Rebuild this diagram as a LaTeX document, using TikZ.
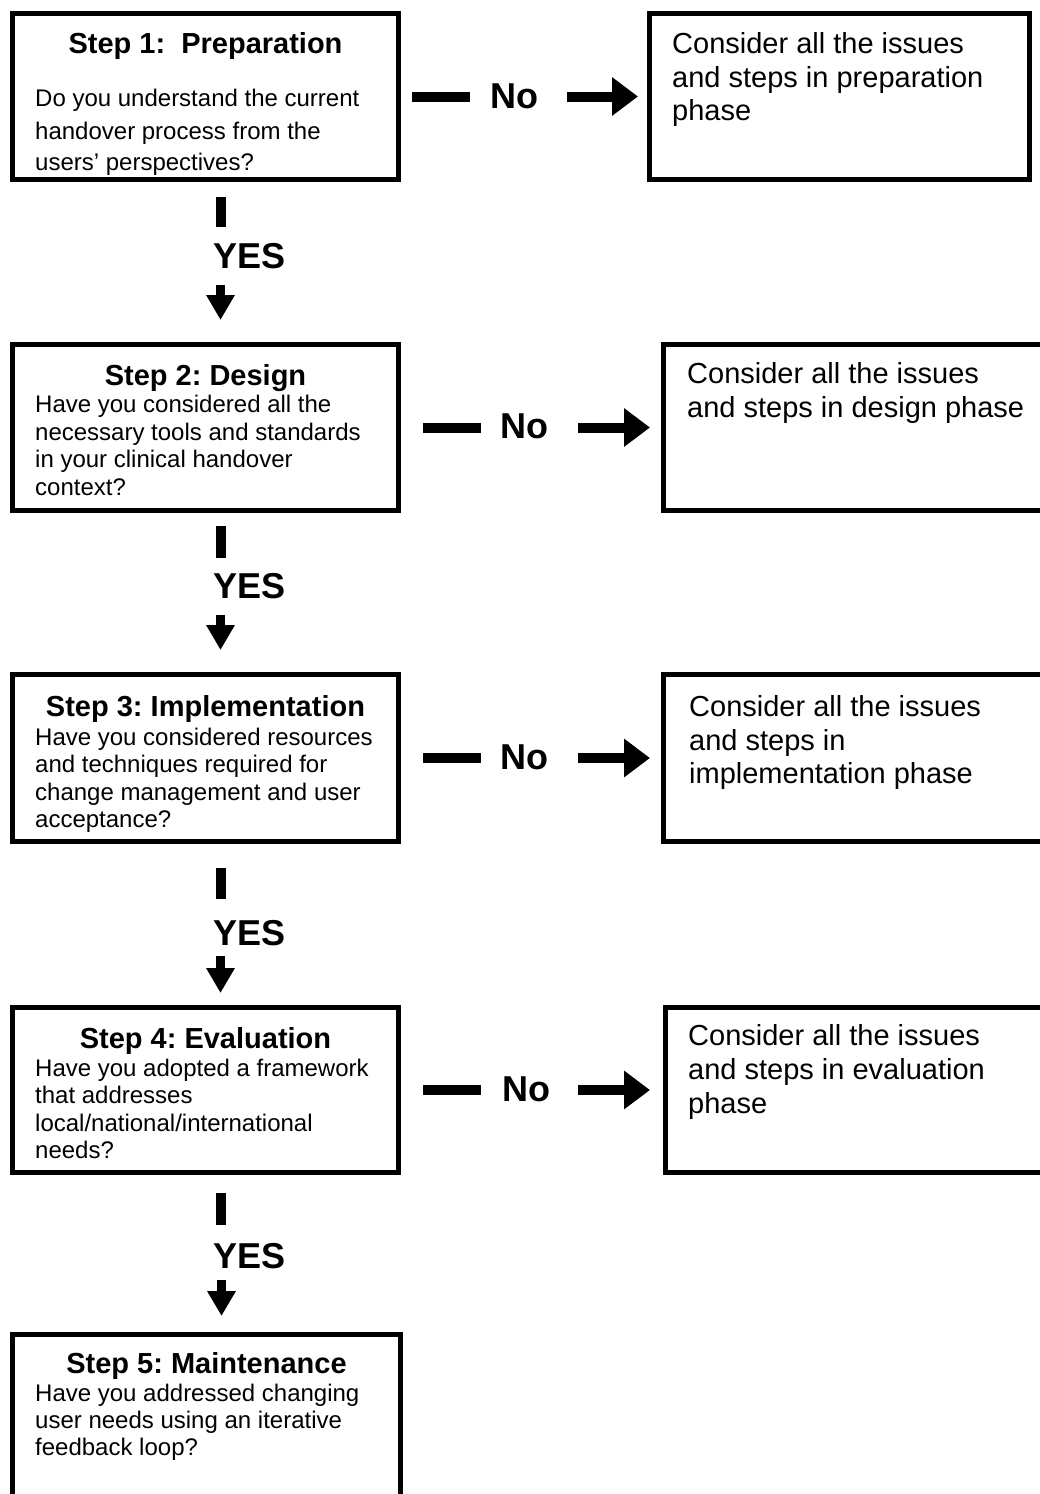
\documentclass[tikz,border=0pt]{standalone}
\usepackage{fontspec}
\setmainfont{Liberation Sans}
\usetikzlibrary{arrows.meta,calc}
\frenchspacing
\begin{document}
\begin{tikzpicture}[x=1pt,y=-1pt,
  box/.style={draw=black, line width=5pt, rectangle, inner sep=0pt, outer sep=0pt},
  ttl/.style={font=\fontsize{29}{33}\selectfont\bfseries, inner sep=0pt, anchor=base},
  txt/.style={font=\fontsize{24}{27.6}\selectfont, inner sep=0pt, anchor=base west},
  rtxt/.style={font=\fontsize{29}{33}\selectfont, inner sep=0pt, anchor=base west},
  lbl/.style={font=\fontsize{36}{40}\selectfont\bfseries, inner sep=0pt, anchor=base west},
  hbar/.style={line width=10pt},
  harrow/.style={line width=10pt, -{Triangle[length=26pt,width=37pt]}},
  vbar/.style={line width=10pt},
  varrow/.style={line width=9pt, -{Triangle[length=25pt,width=27pt]}}]
\useasboundingbox (0,0) rectangle (1040,1494);
\fill[white] (0,0) rectangle (1040,1494);
\begin{scope}
\clip (0,0) rectangle (1040,1494);
% left boxes
\node[box, minimum width=386pt, minimum height=166pt] (b1) at (205.5,96.5) {};
\node[box, minimum width=386pt, minimum height=166pt] (b2) at (205.5,427.5) {};
\node[box, minimum width=386pt, minimum height=167pt] (b3) at (205.5,758) {};
\node[box, minimum width=386pt, minimum height=165pt] (b4) at (205.5,1090) {};
\node[box, minimum width=388pt, minimum height=185.5pt] (b5) at (206.5,1427.25) {};
% right boxes
\node[box, minimum width=380pt, minimum height=166pt] (r1) at (839.5,96.5) {};
\node[box, minimum width=396.5pt, minimum height=166pt] (r2) at (861.75,427.5) {};
\node[box, minimum width=396.5pt, minimum height=167pt] (r3) at (861.75,758) {};
\node[box, minimum width=394.5pt, minimum height=165pt] (r4) at (862.75,1090) {};
\end{scope}
% texts box 1
\node[ttl] (t1) at (205.5,53) {Step 1:\ \ Preparation};
\node[txt] (t1a) at (35,106) {Do you understand the current};
\node[txt] (t1b) at (35,139) {handover process from the};
\node[txt] (t1c) at (35,170) {users’ perspectives?};
% box 2
\node[ttl] (t2) at (205.5,385) {Step 2: Design};
\node[txt] (t2a) at (35,412.7) {Have you considered all the};
\node[txt] (t2b) at (35,440) {necessary tools and standards};
\node[txt] (t2c) at (35,467.7) {in your clinical handover};
\node[txt] (t2d) at (35,495) {context?};
% box 3
\node[ttl] (t3) at (205.5,716) {Step 3: Implementation};
\node[txt] (t3a) at (35,745) {Have you considered resources};
\node[txt] (t3b) at (35,772.5) {and techniques required for};
\node[txt] (t3c) at (35,800) {change management and user};
\node[txt] (t3d) at (35,827.5) {acceptance?};
% box 4
\node[ttl] (t4) at (205.5,1048) {Step 4: Evaluation};
\node[txt] (t4a) at (35,1076) {Have you adopted a framework};
\node[txt] (t4b) at (35,1103.5) {that addresses};
\node[txt] (t4c) at (35,1131) {local/national/international};
\node[txt] (t4d) at (35,1158.5) {needs?};
% box 5
\node[ttl] (t5) at (206.5,1373) {Step 5: Maintenance};
\node[txt] (t5a) at (35,1401.5) {Have you addressed changing};
\node[txt] (t5b) at (35,1428.5) {user needs using an iterative};
\node[txt] (t5c) at (35,1455.5) {feedback loop?};
% right texts
\node[rtxt] (s1a) at (672,53) {Consider all the issues};
\node[rtxt] (s1b) at (672,87) {and steps in preparation};
\node[rtxt] (s1c) at (672,120) {phase};
\node[rtxt] (s2a) at (687,383) {Consider all the issues};
\node[rtxt] (s2b) at (687,417) {and steps in design phase};
\node[rtxt] (s3a) at (689,716) {Consider all the issues};
\node[rtxt] (s3b) at (689,750) {and steps in};
\node[rtxt] (s3c) at (689,783) {implementation phase};
\node[rtxt] (s4a) at (688,1045) {Consider all the issues};
\node[rtxt] (s4b) at (688,1079) {and steps in evaluation};
\node[rtxt] (s4c) at (688,1113) {phase};
% No connectors
\draw[hbar] ($(b1.east)+(13.5,0)$) -- ($(b1.east)+(71.5,0)$);
\node[lbl] (n1) at ($(b1.east)+(91.5,11.5)$) {No};
\draw[harrow] ($(r1.west)+(-82.5,0)$) -- ($(r1.west)+(-11.5,0)$);
\draw[hbar] ($(b2.east)+(24.5,0)$) -- ($(b2.east)+(82.5,0)$);
\node[lbl] (n2) at ($(b2.east)+(101.5,11)$) {No};
\draw[harrow] ($(r2.west)+(-85.5,0)$) -- ($(r2.west)+(-13.5,0)$);
\draw[hbar] ($(b3.east)+(24.5,0)$) -- ($(b3.east)+(82.5,0)$);
\node[lbl] (n3) at ($(b3.east)+(101.5,11)$) {No};
\draw[harrow] ($(r3.west)+(-85.5,0)$) -- ($(r3.west)+(-13.5,0)$);
\draw[hbar] ($(b4.east)+(24.5,0)$) -- ($(b4.east)+(82.5,0)$);
\node[lbl] (n4) at ($(b4.east)+(103.5,11)$) {No};
\draw[harrow] ($(r4.west)+(-87.5,0)$) -- ($(r4.west)+(-15.5,0)$);
% YES connectors
\draw[vbar] ($(b1.south)+(15.5,17.5)$) -- ($(b1.south)+(15.5,47.5)$);
\node[lbl] (y1) at ($(b1.south)+(7.5,88.5)$) {YES};
\draw[varrow] ($(b2.north)+(15,-59.5)$) -- ($(b2.north)+(15,-24.5)$);
\draw[vbar] ($(b2.south)+(15.5,15.5)$) -- ($(b2.south)+(15.5,47.5)$);
\node[lbl] (y2) at ($(b2.south)+(7.5,87.5)$) {YES};
\draw[varrow] ($(b3.north)+(15,-59.5)$) -- ($(b3.north)+(15,-24.5)$);
\draw[vbar] ($(b3.south)+(15.5,26.5)$) -- ($(b3.south)+(15.5,57.5)$);
\node[lbl] (y3) at ($(b3.south)+(7.5,103.5)$) {YES};
\draw[varrow] ($(b4.north)+(15,-51.5)$) -- ($(b4.north)+(15,-14.5)$);
\draw[vbar] ($(b4.south)+(15.5,20.5)$) -- ($(b4.south)+(15.5,52.5)$);
\node[lbl] (y4) at ($(b4.south)+(7.5,95.5)$) {YES};
\draw[varrow] ($(b5.north)+(15,-54.5)$) -- ($(b5.north)+(15,-18.5)$);
\end{tikzpicture}
\end{document}
